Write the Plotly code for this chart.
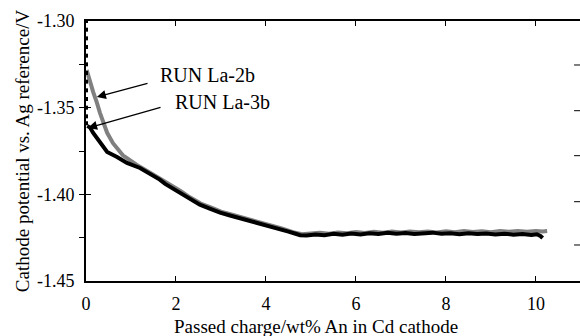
import plotly.graph_objects as go

# ---- data ----
# RUN La-3b (black): initial points along x=0, then discharge curve
x_3b = [0, 0, 0, 0, 0, 0, 0, 0, 0, 0, 0, 0, 0,
        0.03, 0.09, 0.16, 0.31, 0.47, 0.69, 0.91, 1.2, 1.42, 1.64, 1.76, 2.09, 2.3, 2.53,
        2.75, 2.98, 3.2, 3.42, 3.65, 3.87, 4.1, 4.31, 4.5, 4.64, 4.76,
        4.9, 5.1, 5.3, 5.5, 5.7, 5.9, 6.1, 6.3, 6.5, 6.7, 6.9, 7.1, 7.3, 7.5, 7.7, 7.9,
        8.1, 8.3, 8.5, 8.7, 8.9, 9.1, 9.3, 9.5, 9.7, 9.9, 10.02, 10.1, 10.15]
y_3b = [-1.300, -1.305, -1.310, -1.315, -1.320, -1.325, -1.330, -1.335, -1.340, -1.345, -1.350, -1.355, -1.359,
        -1.3605, -1.3615, -1.3646, -1.3704, -1.3756, -1.3785, -1.3819, -1.3848, -1.3880, -1.3915, -1.3940,
        -1.3990, -1.4025, -1.4060, -1.4082, -1.4106, -1.4122, -1.4137, -1.4152, -1.4167, -1.4183, -1.4200,
        -1.4215, -1.4226, -1.4236,
        -1.4238, -1.4232, -1.4236, -1.4228, -1.4233, -1.4226, -1.4231, -1.4224, -1.4229, -1.4222, -1.4228,
        -1.4223, -1.4229, -1.4226, -1.4221, -1.4228, -1.4225, -1.4230, -1.4224, -1.4229, -1.4226, -1.4232,
        -1.4227, -1.4233, -1.4229, -1.4234, -1.4230, -1.4240, -1.4252]

# RUN La-2b (grey)
x_2b = [0.015, 0.09, 0.16, 0.24, 0.31, 0.47, 0.6, 0.82, 1.13, 1.49, 1.8, 2.1, 2.3, 2.55,
        2.8, 3.0, 3.25, 3.45, 3.7, 3.9, 4.1, 4.35, 4.6, 4.8,
        5.0, 5.2, 5.4, 5.6, 5.8, 6.0, 6.2, 6.4, 6.6, 6.8, 7.0, 7.2, 7.4, 7.6, 7.8, 8.0,
        8.2, 8.4, 8.6, 8.8, 9.0, 9.2, 9.4, 9.6, 9.8, 10.0, 10.15, 10.25]
y_2b = [-1.3283, -1.3360, -1.3410, -1.3470, -1.3530, -1.3645, -1.3705, -1.3775, -1.3830, -1.3885,
        -1.3932, -1.3980, -1.4016, -1.4053, -1.4078, -1.4100, -1.4118, -1.4132, -1.4150, -1.4162,
        -1.4178, -1.4196, -1.4218, -1.4230,
        -1.4226, -1.4222, -1.4227, -1.4220, -1.4224, -1.4218, -1.4223, -1.4216, -1.4221, -1.4215,
        -1.4220, -1.4214, -1.4219, -1.4215, -1.4220, -1.4213, -1.4218, -1.4212, -1.4217, -1.4213,
        -1.4218, -1.4212, -1.4216, -1.4211, -1.4216, -1.4212, -1.4215, -1.4212]

x_ticks = [0, 2, 4, 6, 8, 10]
y_ticks = [-1.45, -1.40, -1.35, -1.30]
y_tick_labels = ["-1.45", "-1.40", "-1.35", "-1.30"]
# short tick marks on the right-hand frame (fractions of the plot height)
right_tick_fracs = [0.1385, 0.305, 0.482, 0.655, 0.8308]

FONT = "Liberation Serif"

fig = go.Figure()
fig.add_trace(go.Scatter(x=x_2b, y=y_2b, mode="lines", line=dict(color="#808080", width=4),
                         name="RUN La-2b", showlegend=False))
fig.add_trace(go.Scatter(x=x_3b[13:], y=y_3b[13:], mode="lines", line=dict(color="#000000", width=4),
                         name="RUN La-3b", showlegend=False))
fig.add_trace(go.Scatter(x=x_3b[:13], y=y_3b[:13], mode="markers",
                         marker=dict(color="#000000", size=4, symbol="square"),
                         showlegend=False, cliponaxis=False))

fig.add_annotation(x=0.24, y=-1.3439, ax=1.4, ay=-1.3358, xref="x", yref="y", axref="x", ayref="y",
                   text="", showarrow=True, arrowhead=2, arrowsize=1.4, arrowwidth=1.3, arrowcolor="#000")
fig.add_annotation(x=0.044, y=-1.3617, ax=1.69, ay=-1.3496, xref="x", yref="y", axref="x", ayref="y",
                   text="", showarrow=True, arrowhead=2, arrowsize=1.4, arrowwidth=1.3, arrowcolor="#000")
fig.add_annotation(x=1.6, y=-1.3312, text="RUN La-2b", showarrow=False, xanchor="left", yanchor="middle",
                   font=dict(family=FONT, size=20, color="#000"))
fig.add_annotation(x=1.93, y=-1.3467, text="RUN La-3b", showarrow=False, xanchor="left", yanchor="middle",
                   font=dict(family=FONT, size=20, color="#000"))
# x-axis title (centred as in the reference, slightly left of the plot-area centre)
fig.add_annotation(x=0.4656, y=0, xref="paper", yref="paper", yshift=-45, text="Passed charge/wt% An in Cd cathode",
                   showarrow=False, xanchor="center", yanchor="middle",
                   font=dict(family=FONT, size=19, color="#000"))

for f in right_tick_fracs:
    fig.add_shape(type="line", xref="paper", yref="paper", x0=0.988, x1=1.0, y0=f, y1=f,
                  line=dict(color="#000", width=1))

fig.update_layout(
    width=580, height=336,
    margin=dict(l=86, r=0, t=21, b=55),
    paper_bgcolor="white", plot_bgcolor="white",
    font=dict(family=FONT, size=18, color="#000"),
    xaxis=dict(range=[0, 10.98], tickvals=x_ticks, ticks="inside", ticklen=5, tickwidth=1,
               tickcolor="#000", showline=True, linewidth=2, linecolor="#000", mirror="ticks",
               showgrid=False, zeroline=False, ticklabelstandoff=5,
               tickfont=dict(size=18)),
    yaxis=dict(range=[-1.45, -1.30], tickvals=y_ticks, ticktext=y_tick_labels, ticks="inside",
               ticklen=5, tickwidth=1, tickcolor="#000", showline=True, linewidth=2, linecolor="#000",
               mirror=False, showgrid=False, zeroline=False, ticklabelstandoff=6,
               tickfont=dict(size=18),
               minor=dict(dtick=0.025, tick0=-1.45, ticks="outside", ticklen=5, tickcolor="#000",
                          showgrid=False),
               title=dict(text="Cathode potential vs. Ag reference/V", font=dict(size=19), standoff=2)),
)

fig.write_html("out.html", config={"displayModeBar": False},
               post_script="document.documentElement.style.overflow='hidden';"
                           "document.body.style.overflow='hidden';document.body.style.margin='0';")
